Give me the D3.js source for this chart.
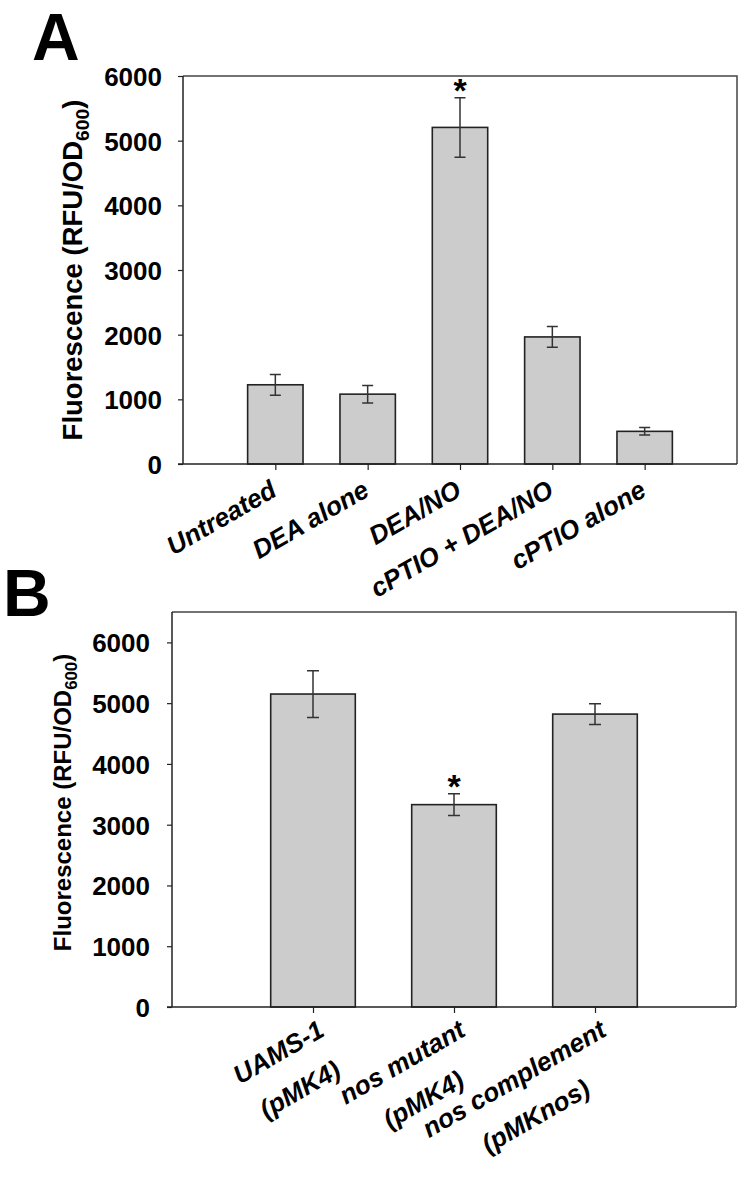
<!DOCTYPE html>
<html><head><meta charset="utf-8">
<script src="https://cdn.jsdelivr.net/npm/d3@7"></script>
<style>
body{margin:0;background:#fff}
svg{display:block}
text{font-family:"Liberation Sans",Arial,Helvetica,sans-serif;font-weight:bold;fill:#000}
</style>
</head><body>
<svg id="c" width="745" height="1177"></svg>
<script>
// ---- Panel A data ----
const catsA = ["Untreated", "DEA alone", "DEA/NO", "cPTIO + DEA/NO", "cPTIO alone"];
const valsA = [1225, 1080, 5205, 1965, 505];
const errA  = [160, 135, 460, 160, 58];
const sigA  = [false, false, true, false, false];
const ticksA = [0, 1000, 2000, 3000, 4000, 5000, 6000];

// ---- Panel B data ----
const catsB = [["UAMS-1", "(pMK4)"], ["nos mutant", "(pMK4)"], ["nos complement", "(pMKnos)"]];
const valsB = [5150, 3330, 4820];
const errB  = [385, 180, 170];
const sigB  = [false, true, false];
const ticksB = [0, 1000, 2000, 3000, 4000, 5000, 6000];

const svg = d3.select("#c");

function panel(cfg) {
  const g = svg.append("g");
  const keys = cfg.cats.map((c, i) => i);
  const x = d3.scalePoint().domain(keys).range([cfg.left, cfg.right]).padding(1);
  const y = d3.scaleLinear().domain([0, cfg.yMax]).range([cfg.bottom, cfg.top]);
  const bw = x.step() * 0.6;

  // frame top & right
  g.append("path")
    .attr("d", `M${cfg.left},${cfg.top}H${cfg.right}V${cfg.bottom}`)
    .attr("fill", "none").attr("stroke", "#444").attr("stroke-width", 1.5);

  // bars
  g.selectAll("rect.bar").data(cfg.vals).join("rect")
    .attr("x", (d, i) => x(i) - bw / 2)
    .attr("y", d => y(d))
    .attr("width", bw)
    .attr("height", d => y(0) - y(d))
    .attr("fill", "#cccccc").attr("stroke", "#222").attr("stroke-width", 1.6);

  // error bars
  const eg = g.append("g").attr("stroke", "#333").attr("stroke-width", 1.5).attr("fill", "none");
  cfg.vals.forEach((v, i) => {
    const cx = x(i), e = cfg.errs[i], hw = cfg.capW / 2;
    eg.append("path").attr("d",
      `M${cx},${y(v + e)}V${y(v - e)}M${cx - hw},${y(v + e)}H${cx + hw}M${cx - hw},${y(v - e)}H${cx + hw}`);
    if (cfg.sig[i]) {
      g.append("text").attr("x", cx).attr("y", y(v + e) + cfg.starDy)
        .attr("text-anchor", "middle").attr("font-size", 34).text("*");
    }
  });

  // y axis
  const ya = g.append("g").attr("transform", `translate(${cfg.left},0)`)
    .call(d3.axisLeft(y).tickValues(cfg.ticks).tickFormat(d3.format("d"))
      .tickSize(5).tickSizeOuter(0).tickPadding(cfg.tickPad));
  ya.select(".domain").attr("stroke", "#222").attr("stroke-width", 1.5)
    .attr("d", `M0,${cfg.top}V${cfg.bottom}`);
  ya.selectAll(".tick line").attr("stroke", "#222").attr("stroke-width", 1.2);
  ya.selectAll(".tick text").attr("font-size", 26).attr("font-family", null).attr("dy", "0.36em");

  // x axis
  const xa = g.append("g").attr("transform", `translate(0,${cfg.bottom})`)
    .call(d3.axisBottom(x).tickSize(6).tickSizeOuter(0).tickFormat(""));
  xa.select(".domain").attr("stroke", "#222").attr("stroke-width", 1.5)
    .attr("d", `M${cfg.left - 5},0H${cfg.right}`);
  xa.selectAll(".tick line").attr("stroke", "#222").attr("stroke-width", 1.2);

  // x labels: rotated -30°, right end at the tick; multi-line labels centred on each other
  cfg.cats.forEach((c, i) => {
    const lines = Array.isArray(c) ? c : [c];
    const ax = x(i) + cfg.labDx, ay = cfg.bottom + cfg.labDy;
    const ts = lines.map(l => g.append("text")
      .attr("text-anchor", "end")
      .attr("font-size", 26).attr("font-style", "italic").text(l));
    const ws = ts.map(t => t.node().getComputedTextLength());
    const mw = Math.max(...ws);
    ts.forEach((t, k) => {
      const ox = -(mw - ws[k]) / 2, oy = k * cfg.lineGap;
      t.attr("transform", `translate(${ax},${ay}) rotate(-30) translate(${ox},${oy})`);
    });
  });

  // y title
  const tt = g.append("text")
    .attr("transform", `translate(${cfg.titleX},${(cfg.top + cfg.bottom) / 2 + cfg.titleDy}) rotate(-90)`)
    .attr("text-anchor", "middle").attr("font-size", cfg.titleSize);
  tt.append("tspan").text("Fluorescence (RFU/OD");
  tt.append("tspan").attr("font-size", cfg.titleSize * 0.7).attr("dy", cfg.titleSize * 0.25).text("600");
  tt.append("tspan").attr("dy", -cfg.titleSize * 0.25).text(")");

  // panel letter
  g.append("text").attr("x", cfg.letterX).attr("y", cfg.letterY)
    .attr("font-size", 66).text(cfg.letter);
}

panel({
  letter: "A", letterX: 32, letterY: 60,
  cats: catsA, vals: valsA, errs: errA, sig: sigA, ticks: ticksA,
  left: 183, right: 737, top: 76, bottom: 464, yMax: 6000,
  tickPad: 16, capW: 11, starDy: 4,
  labDx: 3, labDy: 31, lineGap: 43,
  titleX: 82, titleDy: 0, titleSize: 27.5
});

panel({
  letter: "B", letterX: 3, letterY: 616,
  cats: catsB, vals: valsB, errs: errB, sig: sigB, ticks: ticksB,
  left: 172, right: 736, top: 612, bottom: 1007, yMax: 6500,
  tickPad: 17, capW: 12, starDy: 4,
  labDx: 13, labDy: 28, lineGap: 43,
  titleX: 71, titleDy: -7, titleSize: 24
});
</script>
</body></html>
